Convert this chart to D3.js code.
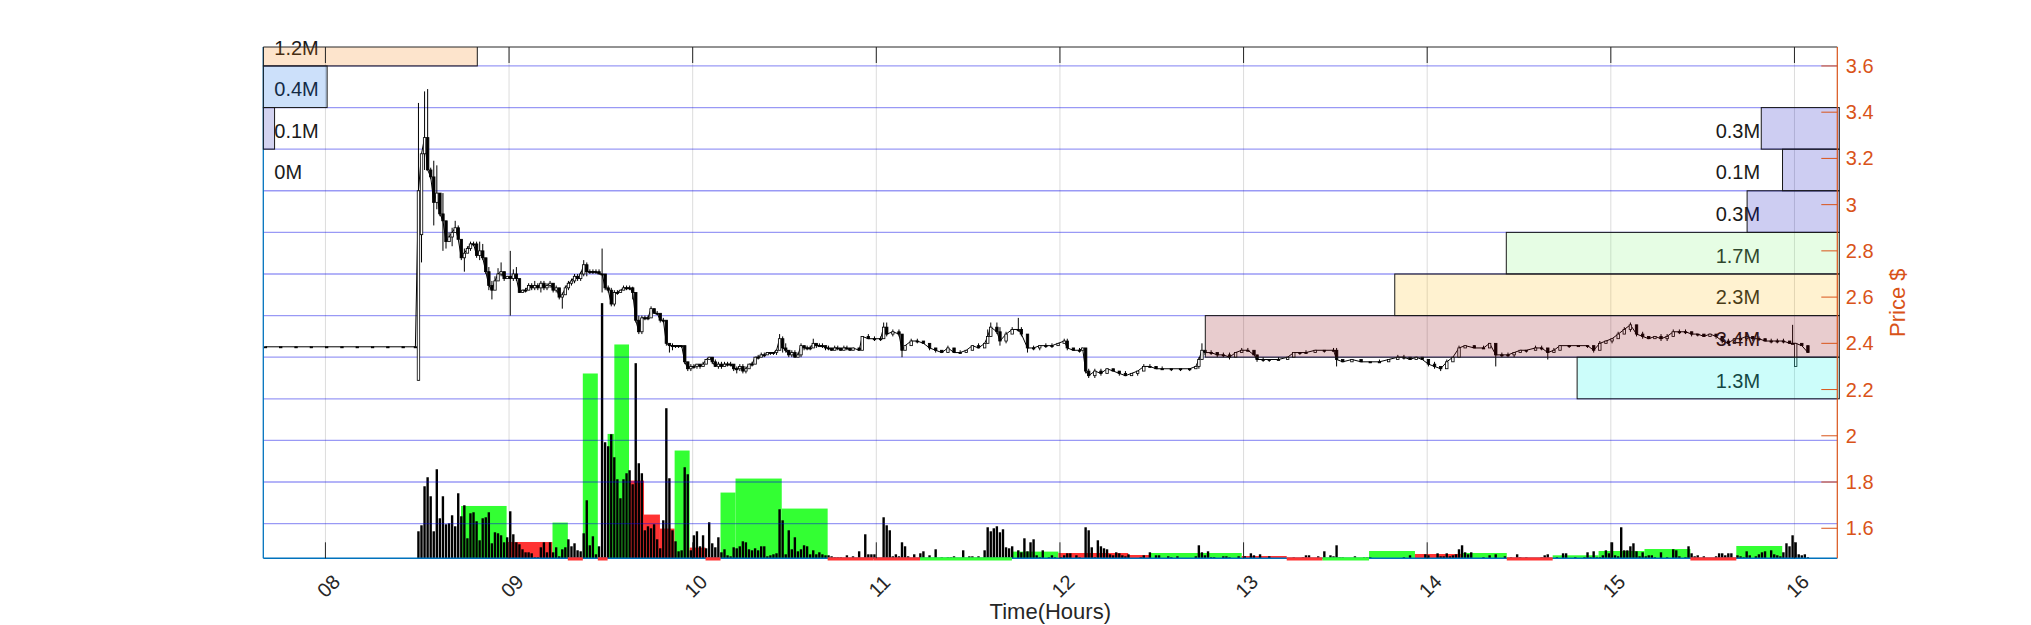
<!DOCTYPE html>
<html><head><meta charset="utf-8">
<script src="https://cdn.jsdelivr.net/npm/d3@7"></script>
<style>
body{margin:0;background:#fff;}
svg{display:block;font-family:"Liberation Sans",Arial,Helvetica,sans-serif;}
</style>
</head><body>
<svg id="c" width="2031" height="625"></svg>
<script>
// ---------------- DATA ----------------
const hourTicks = [480,540,600,660,720,780,840,900,960];          // minutes after midnight
const hourLabels = ["08","09","10","11","12","13","14","15","16"];
const priceTicks = [1.6,1.8,2.0,2.2,2.4,2.6,2.8,3.0,3.2,3.4,3.6];
const binEdges = [3.60,3.42,3.24,3.06,2.88,2.70,2.52,2.34,2.16,1.98,1.80,1.62];
const binSize = 0.18;

const leftProfileLow = [3.60,3.42,3.24,3.06];
const leftProfileVol = [1.2,0.4,0.12,0.02];          // millions
const leftProfileColor = ["#f57800","#0064e6","#2323b4","#2323b4"];

const rightProfileLow = [3.24,3.06,2.88,2.70,2.52,2.34,2.16];
const rightProfileVol = [0.26,0.14,0.34,1.70,2.33,3.40,1.30];   // millions
const rightProfileColor = ["#0505be","#0505be","#0505be","#82f578","#ffbe14","#8c000a","#00f5e6"];

// aggregated volume bars (start min, end min, volume, up=1/down=0)
const aggStart = [524.3,539.2,554.2,559.2,564.1,569.0,572.2,574.4,579.2,584.1,589.3,594.1,599.0,604.2,609.1,614.0,629.1,644.1,659.1,674.3,689.3,704.3,719.5,742.3,749.5,779.4,794.1,805.8,821.0,836.0,851.0,866.0,881.0,896.0,911.0,926.0,941.0];
const aggEnd   = [539.2,554.2,559.2,564.1,569.0,572.2,574.4,579.2,584.1,589.3,594.1,599.0,604.2,609.1,614.0,629.1,644.1,659.1,674.3,689.3,704.3,719.5,742.3,749.5,779.4,794.1,805.8,821.0,836.0,851.0,866.0,881.0,896.0,911.0,926.0,941.0,956.0];
const aggVol   = [52.3,16.3,35.7,0.5,184.7,0.5,124.3,213.7,77.7,43.7,29.7,107.7,10.7,0.5,65.7,79.7,49.7,0.5,0.5,0.5,0.5,6.7,5.3,3.3,5.3,2.3,0.5,0.5,7.3,4.3,5.3,0.5,3.0,7.3,9.3,0.5,12.3];
const aggUp    = [1,0,1,0,1,0,1,1,0,0,0,1,0,0,1,1,1,0,0,1,1,1,0,0,1,0,0,1,1,0,1,0,1,1,1,0,1];

// per-minute volume [minute, volume(k)]
const minuteVolumes = [
[510,27],[511,33],[512,72],[513,81],[514,62],[515,27],[516,89],[517,40],[518,62],[519,34],[520,35],[521,43],[522,32],[523,65],[524,42],[525,53],[526,20],[527,45],[528,46],[529,37],[530,18],[531,40],[532,41],[533,46],[534,15],[535,26],[536,25],[537,23],[538,16],[539,21],[540,47],[541,24],[542,16],[543,14],[544,9],[545,6],[546,6],[547,5],[548,1],[549,1],[550,11],[551,16],[552,6],[553,16],[554,6],[555,11],[556,2],[557,9],[558,11],[559,19],[560,12],[561,15],[562,8],[563,7],[564,25],[565,58],[566,13],[567,22],[568,4],[569,12],
[570,255],[571,116],[572,112],[573,124],[574,101],[575,79],[576,60],[577,79],[578,85],[579,88],[580,74],[581,195],[582,95],[583,85],[584,28],[585,32],[586,30],[587,34],[588,19],[589,10],[590,38],[591,150],[592,80],[593,28],[594,17],[595,7],[596,8],[597,91],[598,84],[599,8],[600,23],[601,27],[602,12],[603,23],[604,10],[605,36],[606,15],[607,11],[608,21],[609,6],[610,9],[611,3],[612,2],[613,11],[614,10],[615,12],[616,17],[617,16],[618,9],[619,8],[620,10],[621,8],[622,12],[623,12],[624,2],[625,3],[626,4],[627,5],[628,49],[629,38],[630,4],[631,28],[632,9],[633,21],[634,7],[635,9],[636,13],[637,12],[638,4],[639,8],[640,4],[641,6],[642,4],[643,3],[644,3],[645,2],[646,1],[647,1],[648,1],[650,3],[652,2],[654,7],[656,24],[657,4],[658,4],[659,4],
[662,41],[663,33],[664,28],[665,2],[666,4],[667,2],[668,16],[669,12],[670,2],[672,4],[674,5],[675,7],[677,3],[679,9],[681,1],[683,1],[684,1],[685,2],[688,8],[690,2],[691,2],[693,2],[695,8],[696,31],[697,27],[698,30],[699,32],[700,26],[701,29],[702,11],[703,10],[704,12],[706,8],[707,6],[708,20],[709,7],[710,16],[711,19],[712,3],[713,1],[714,8],[716,1],[717,3],[718,1],
[720,1],[721,3],[722,5],[723,5],[725,3],[726,1],[728,31],[729,28],[730,11],[731,1],[732,18],[733,12],[734,10],[735,9],[736,4],[737,3],[738,6],[739,5],[740,3],[741,2],[742,4],[746,1],[747,3],[749,6],[751,3],[752,3],[755,2],[756,1],[758,2],[764,2],[765,13],[766,6],[767,3],[768,7],[769,1],[770,1],[773,2],[774,2],[775,1],[778,2],[780,2],[782,5],[783,3],[785,4],[788,2],[796,1],[799,1],[800,3],[801,3],[804,2],[806,7],[808,3],[809,2],[810,13],[811,1],[812,1],[816,2],[819,1],[820,1],[821,1],[832,1],[834,3],[839,4],
[840,3],[843,5],[844,2],[845,2],[846,5],[847,2],[848,3],[849,4],[850,9],[851,13],[852,6],[853,4],[854,6],[858,1],[860,3],[862,4],[865,2],[867,1],[869,4],[870,1],[872,1],[877,1],[878,3],[879,4],[882,1],[884,5],[885,5],[888,1],[891,1],[892,6],[893,1],[894,7],[895,1],[896,1],[897,3],[898,8],[899,5],
[900,16],[901,3],[902,2],[903,31],[904,8],[905,8],[906,12],[907,15],[908,7],[909,2],[910,6],[911,2],[912,3],[913,3],[914,1],[916,6],[918,1],[920,9],[921,8],[922,2],[924,1],[925,12],[926,5],[927,2],[928,3],[930,2],[934,2],[935,5],[936,5],[937,3],[938,5],[939,5],[941,3],[942,2],[943,1],[944,7],[945,3],[947,2],[948,4],[949,6],[950,7],[952,8],[953,4],[954,3],[955,2],[956,6],[957,15],[958,12],[959,23],[960,16],[961,4],[962,3],[963,4],[964,1]
];

// price candles [minute, open, high, low, close]
const priceBars = [
[460,2.385,2.385,2.385,2.385],[465,2.385,2.385,2.385,2.385],[470,2.385,2.385,2.385,2.385],[475,2.385,2.385,2.385,2.385],[480,2.385,2.385,2.385,2.385],[485,2.385,2.385,2.385,2.385],[490,2.385,2.385,2.385,2.385],[495,2.385,2.385,2.385,2.385],[500,2.385,2.385,2.385,2.385],[505,2.385,2.385,2.385,2.385],[509,2.385,2.385,2.385,2.385],
[510,2.24,3.44,2.24,3.06],[511,2.87,3.22,2.75,3.22],[512,3.22,3.49,3.15,3.29],[513,3.29,3.50,3.15,3.15],[514,3.15,3.16,3.11,3.12],[515,3.12,3.19,2.91,3.01],[516,3.01,3.17,2.98,3.05],[517,3.05,3.05,2.95,2.96],[518,2.96,3.05,2.80,2.93],[519,2.93,2.93,2.81,2.84],
[520,2.84,2.88,2.84,2.86],[521,2.86,2.90,2.82,2.88],[522,2.88,2.93,2.88,2.90],[523,2.90,2.91,2.85,2.85],[524,2.85,2.85,2.76,2.77],[525,2.77,2.81,2.71,2.79],[526,2.79,2.82,2.79,2.81],[527,2.81,2.84,2.80,2.83],[528,2.83,2.84,2.82,2.83],[529,2.83,2.84,2.77,2.78],
[530,2.78,2.84,2.76,2.80],[531,2.80,2.83,2.76,2.77],[532,2.77,2.77,2.70,2.71],[533,2.71,2.73,2.63,2.65],[534,2.65,2.67,2.59,2.63],[535,2.63,2.69,2.63,2.67],[536,2.67,2.725,2.67,2.70],[537,2.70,2.75,2.69,2.71],[538,2.71,2.71,2.67,2.68],[539,2.68,2.69,2.68,2.69],
[540,2.69,2.80,2.52,2.68],[541,2.68,2.72,2.67,2.70],[542,2.70,2.73,2.67,2.68],[543,2.68,2.68,2.62,2.62],[544,2.62,2.63,2.62,2.63],[545,2.63,2.64,2.62,2.63],[546,2.63,2.66,2.63,2.65],[547,2.65,2.66,2.63,2.64],[548,2.64,2.67,2.63,2.65],[549,2.65,2.66,2.63,2.64],
[550,2.64,2.67,2.62,2.66],[551,2.66,2.67,2.63,2.64],[552,2.64,2.66,2.63,2.65],[553,2.65,2.67,2.64,2.66],[554,2.66,2.66,2.62,2.63],[555,2.63,2.65,2.62,2.64],[556,2.64,2.64,2.59,2.60],[557,2.60,2.62,2.55,2.61],[558,2.61,2.65,2.61,2.64],[559,2.64,2.67,2.63,2.66],
[560,2.66,2.68,2.65,2.67],[561,2.67,2.70,2.66,2.69],[562,2.69,2.70,2.67,2.68],[563,2.68,2.71,2.67,2.70],[564,2.70,2.76,2.69,2.74],[565,2.74,2.75,2.69,2.71],[566,2.71,2.72,2.70,2.71],[567,2.71,2.72,2.70,2.71],[568,2.71,2.72,2.70,2.71],[569,2.71,2.72,2.70,2.70],
[570,2.70,2.81,2.62,2.70],[571,2.70,2.70,2.63,2.64],[572,2.64,2.65,2.62,2.63],[573,2.63,2.64,2.56,2.57],[574,2.57,2.63,2.56,2.62],[575,2.62,2.63,2.61,2.62],[576,2.62,2.63,2.62,2.63],[577,2.63,2.65,2.63,2.64],[578,2.64,2.65,2.63,2.64],[579,2.64,2.65,2.63,2.64],
[580,2.64,2.645,2.59,2.62],[581,2.62,2.62,2.49,2.50],[582,2.50,2.52,2.44,2.45],[583,2.45,2.52,2.44,2.51],[584,2.51,2.52,2.50,2.51],[585,2.51,2.52,2.50,2.51],[586,2.51,2.56,2.51,2.55],[587,2.55,2.55,2.53,2.53],[588,2.53,2.54,2.53,2.53],[589,2.53,2.53,2.49,2.50],
[590,2.50,2.51,2.49,2.50],[591,2.50,2.50,2.39,2.40],[592,2.40,2.40,2.36,2.39],[593,2.39,2.40,2.37,2.39],[594,2.39,2.39,2.38,2.39],[595,2.39,2.39,2.38,2.39],[596,2.39,2.39,2.38,2.39],[597,2.39,2.39,2.31,2.32],[598,2.32,2.32,2.28,2.29],[599,2.29,2.31,2.28,2.30],
[600,2.30,2.31,2.29,2.30],[601,2.30,2.31,2.29,2.31],[602,2.31,2.31,2.29,2.30],[603,2.30,2.32,2.30,2.31],[604,2.31,2.33,2.31,2.33],[605,2.33,2.34,2.33,2.34],[606,2.34,2.34,2.31,2.32],[607,2.32,2.33,2.30,2.30],[608,2.30,2.32,2.29,2.31],[609,2.31,2.32,2.29,2.30],
[610,2.30,2.32,2.30,2.31],[611,2.31,2.32,2.30,2.31],[612,2.31,2.32,2.30,2.31],[613,2.31,2.31,2.28,2.29],[614,2.29,2.30,2.27,2.29],[615,2.29,2.31,2.28,2.30],[616,2.30,2.31,2.27,2.28],[617,2.28,2.30,2.27,2.29],[618,2.29,2.31,2.29,2.31],[619,2.31,2.32,2.30,2.31],
[620,2.31,2.34,2.31,2.34],[621,2.34,2.35,2.33,2.34],[622,2.34,2.36,2.34,2.35],[623,2.35,2.36,2.34,2.35],[624,2.35,2.36,2.35,2.36],[625,2.36,2.36,2.35,2.36],[626,2.36,2.36,2.35,2.36],[627,2.36,2.37,2.35,2.37],[628,2.37,2.44,2.37,2.42],[629,2.42,2.43,2.36,2.38],
[630,2.38,2.40,2.36,2.37],[631,2.37,2.37,2.34,2.35],[632,2.35,2.37,2.34,2.36],[633,2.36,2.37,2.34,2.34],[634,2.34,2.36,2.34,2.35],[635,2.35,2.40,2.34,2.39],[636,2.39,2.39,2.37,2.38],[637,2.38,2.39,2.37,2.38],[638,2.38,2.39,2.37,2.38],[639,2.38,2.42,2.38,2.40],
[640,2.40,2.40,2.38,2.39],[641,2.39,2.40,2.39,2.39],[642,2.39,2.40,2.38,2.39],[643,2.39,2.39,2.37,2.38],[644,2.38,2.39,2.37,2.38],[645,2.38,2.38,2.37,2.37],[646,2.37,2.39,2.37,2.38],[647,2.38,2.39,2.37,2.38],[648,2.38,2.38,2.37,2.37],[649,2.37,2.39,2.37,2.38],
[650,2.38,2.39,2.37,2.38],[651,2.38,2.38,2.37,2.37],[652,2.37,2.38,2.37,2.38],[654,2.38,2.38,2.37,2.37],[655,2.37,2.43,2.37,2.43],[657,2.43,2.44,2.42,2.42],[659,2.42,2.43,2.41,2.42],[661,2.42,2.43,2.41,2.42],[662,2.42,2.49,2.42,2.47],[663,2.47,2.49,2.43,2.44],
[665,2.44,2.46,2.43,2.45],[667,2.45,2.46,2.43,2.44],[668,2.44,2.44,2.34,2.37],[669,2.37,2.39,2.37,2.39],[671,2.39,2.42,2.39,2.41],[673,2.41,2.42,2.40,2.41],[675,2.41,2.41,2.40,2.40],[677,2.40,2.40,2.37,2.38],[679,2.38,2.38,2.36,2.37],[681,2.37,2.37,2.36,2.36],
[683,2.36,2.39,2.36,2.38],[685,2.38,2.38,2.36,2.36],[687,2.36,2.37,2.36,2.36],[689,2.36,2.37,2.36,2.37],[691,2.37,2.39,2.37,2.39],[693,2.39,2.40,2.38,2.38],[695,2.38,2.40,2.38,2.40],[696,2.40,2.46,2.40,2.43],[697,2.43,2.49,2.43,2.47],[699,2.47,2.49,2.44,2.45],
[700,2.45,2.47,2.39,2.41],[702,2.41,2.45,2.40,2.44],[704,2.44,2.47,2.44,2.46],[706,2.46,2.51,2.45,2.46],[707,2.46,2.47,2.43,2.44],[709,2.44,2.44,2.36,2.38],[711,2.38,2.39,2.37,2.38],[713,2.38,2.39,2.37,2.39],[715,2.39,2.40,2.38,2.39],[717,2.39,2.40,2.38,2.39],
[719,2.39,2.40,2.39,2.40],[721,2.40,2.42,2.40,2.41],[722,2.41,2.42,2.37,2.38],[724,2.38,2.38,2.37,2.37],[726,2.37,2.38,2.36,2.37],[727,2.37,2.38,2.37,2.38],[728,2.38,2.38,2.27,2.28],[729,2.28,2.29,2.25,2.26],[731,2.26,2.29,2.25,2.28],[733,2.28,2.29,2.26,2.27],
[735,2.27,2.29,2.27,2.29],[737,2.29,2.29,2.28,2.28],[739,2.28,2.28,2.26,2.27],[741,2.27,2.28,2.26,2.26],[743,2.26,2.27,2.26,2.27],[745,2.27,2.28,2.26,2.28],[747,2.28,2.31,2.28,2.30],[749,2.30,2.31,2.30,2.30],[751,2.30,2.30,2.29,2.29],[753,2.29,2.30,2.29,2.29],
[756,2.29,2.29,2.28,2.29],[759,2.29,2.29,2.28,2.29],[762,2.29,2.29,2.28,2.29],[764,2.29,2.30,2.29,2.30],[765,2.30,2.34,2.29,2.33],[766,2.33,2.40,2.33,2.37],[767,2.37,2.37,2.35,2.36],[769,2.36,2.37,2.35,2.36],[771,2.36,2.36,2.34,2.35],[773,2.35,2.36,2.34,2.35],
[775,2.35,2.36,2.33,2.34],[777,2.34,2.36,2.34,2.36],[779,2.36,2.38,2.36,2.37],[781,2.37,2.38,2.37,2.37],[783,2.37,2.37,2.35,2.35],[784,2.35,2.35,2.32,2.33],[786,2.33,2.34,2.32,2.33],[788,2.33,2.33,2.32,2.33],[791,2.33,2.34,2.33,2.33],[794,2.33,2.34,2.33,2.34],
[796,2.34,2.36,2.34,2.36],[798,2.36,2.36,2.35,2.36],[800,2.36,2.37,2.36,2.36],[803,2.36,2.37,2.36,2.37],[806,2.37,2.37,2.36,2.37],[809,2.37,2.38,2.37,2.37],[810,2.37,2.38,2.30,2.33],[812,2.33,2.33,2.32,2.32],[815,2.32,2.33,2.32,2.33],[818,2.33,2.33,2.32,2.32],
[821,2.32,2.32,2.32,2.32],[824,2.32,2.33,2.32,2.32],[827,2.32,2.33,2.32,2.33],[830,2.33,2.35,2.33,2.34],[832,2.34,2.35,2.33,2.34],[834,2.34,2.34,2.33,2.33],[836,2.33,2.34,2.33,2.34],[838,2.34,2.34,2.33,2.33],[840,2.33,2.33,2.30,2.31],[842,2.31,2.32,2.29,2.30],
[844,2.30,2.30,2.28,2.29],[846,2.29,2.33,2.29,2.32],[848,2.32,2.34,2.32,2.34],[850,2.34,2.39,2.34,2.38],[852,2.38,2.39,2.38,2.39],[855,2.39,2.39,2.38,2.38],[858,2.38,2.39,2.38,2.38],[860,2.38,2.40,2.38,2.40],[862,2.40,2.40,2.30,2.35],[864,2.35,2.36,2.34,2.35],
[866,2.35,2.36,2.34,2.35],[868,2.35,2.36,2.34,2.36],[870,2.36,2.37,2.36,2.37],[872,2.37,2.37,2.36,2.37],[875,2.37,2.39,2.37,2.38],[877,2.38,2.39,2.37,2.38],[879,2.38,2.38,2.33,2.36],[881,2.36,2.38,2.36,2.37],[883,2.37,2.39,2.37,2.39],[886,2.39,2.39,2.38,2.39],
[889,2.39,2.39,2.39,2.39],[892,2.39,2.39,2.38,2.39],[894,2.39,2.39,2.36,2.37],[896,2.37,2.41,2.37,2.40],[898,2.40,2.41,2.40,2.41],[900,2.41,2.42,2.40,2.42],[902,2.42,2.45,2.42,2.44],[904,2.44,2.47,2.44,2.46],[906,2.46,2.49,2.45,2.48],[908,2.48,2.48,2.43,2.44],
[910,2.44,2.45,2.42,2.43],[912,2.43,2.43,2.42,2.42],[914,2.42,2.43,2.42,2.43],[916,2.43,2.44,2.41,2.42],[918,2.42,2.44,2.41,2.43],[920,2.43,2.46,2.43,2.45],[922,2.45,2.46,2.44,2.45],[924,2.45,2.46,2.44,2.45],[926,2.45,2.45,2.43,2.44],[928,2.44,2.44,2.43,2.44],
[930,2.44,2.44,2.43,2.43],[932,2.43,2.44,2.43,2.44],[934,2.44,2.44,2.42,2.43],[936,2.43,2.43,2.40,2.41],[938,2.41,2.42,2.39,2.40],[940,2.40,2.42,2.40,2.42],[942,2.42,2.43,2.41,2.42],[944,2.42,2.44,2.41,2.43],[946,2.43,2.43,2.41,2.42],[948,2.42,2.43,2.41,2.42],
[950,2.42,2.42,2.41,2.41],[952,2.41,2.42,2.40,2.41],[954,2.41,2.42,2.40,2.41],[956,2.41,2.42,2.40,2.41],[958,2.41,2.41,2.40,2.40],[959,2.40,2.48,2.40,2.40],[960,2.30,2.40,2.30,2.40],[962,2.40,2.40,2.39,2.39],[964,2.39,2.39,2.36,2.36]
];

// ---------------- LAYOUT ----------------
const L = 263.3, R = 1837.3, T = 47, B = 558.3;
const axisBlue = "#0072BD", axisOrange = "#D95319", ink = "#262626";

const svg = d3.select("#c");
const x = d3.scaleLinear().domain([459.7, 974.0]).range([L, R]);
const yP = d3.scaleLinear().domain([1.470, 3.682]).range([B, T]);
const yV = d3.scaleLinear().domain([0, 511]).range([B, T]);
const wRight = d3.scaleLinear().domain([0, 3.4]).range([30, 632]);
const wLeft = d3.scaleLinear().domain([0.06, 1.2]).range([0, 214]).clamp(true);

const defs = svg.append("defs");
defs.append("clipPath").attr("id","clipPlot").append("rect")
  .attr("x", L).attr("y", T).attr("width", R - L).attr("height", B - T + 3);
defs.append("clipPath").attr("id","clipProf").append("rect")
  .attr("x", L - 1).attr("y", T).attr("width", R - L + 4).attr("height", B - T);

// vertical grid
svg.append("g").selectAll("line").data(hourTicks).join("line")
  .attr("x1", d => x(d)).attr("x2", d => x(d)).attr("y1", T).attr("y2", B)
  .attr("stroke", "#dcdcdc").attr("stroke-width", 1);

const plot = svg.append("g").attr("clip-path", "url(#clipPlot)");

// aggregated coloured volume bars
const agg = aggStart.map((s, i) => ({s, e: aggEnd[i], v: aggVol[i], up: aggUp[i]}));
plot.append("g").selectAll("rect").data(agg.filter(d => d.v >= 1)).join("rect")
  .attr("x", d => x(d.s)).attr("width", d => x(d.e) - x(d.s))
  .attr("y", d => yV(d.v)).attr("height", d => B - yV(d.v))
  .attr("fill", d => d.up ? "#33ff33" : "#ff3333");

// per-minute black volume bars
plot.append("g").selectAll("rect").data(minuteVolumes).join("rect")
  .attr("x", d => x(d[0])).attr("width", x(0.78) - x(0))
  .attr("y", d => yV(d[1])).attr("height", d => B - yV(d[1]))
  .attr("fill", "#000");

// blue bin lines
plot.append("g").selectAll("line").data(binEdges).join("line")
  .attr("x1", L).attr("x2", R).attr("y1", d => yP(d)).attr("y2", d => yP(d))
  .attr("stroke", "rgb(0,0,230)").attr("stroke-opacity", 0.4).attr("stroke-width", 1.3);

// price: connecting line
plot.append("path").datum(priceBars)
  .attr("d", d3.line().x(d => x(d[0] + 0.4)).y(d => yP(d[4])))
  .attr("fill", "none").attr("stroke", "#000").attr("stroke-width", 1);
// wicks
plot.append("g").selectAll("line").data(priceBars.filter(d => d[2] > d[3])).join("line")
  .attr("x1", d => x(d[0] + 0.4)).attr("x2", d => x(d[0] + 0.4))
  .attr("y1", d => yP(d[2])).attr("y2", d => yP(d[3]))
  .attr("stroke", "#000").attr("stroke-width", 1);
// bodies
plot.append("g").selectAll("rect").data(priceBars).join("rect")
  .attr("x", d => x(d[0]))
  .attr("width", x(0.8) - x(0))
  .attr("y", d => yP(Math.max(d[1], d[4])))
  .attr("height", d => Math.max(1, Math.abs(yP(d[1]) - yP(d[4]))))
  .attr("fill", d => d[4] > d[1] ? "#fff" : "#000")
  .attr("stroke", "#000").attr("stroke-width", 0.8);

// bottom axis line (blue) and left line
svg.append("line").attr("x1", L).attr("x2", R).attr("y1", B).attr("y2", B)
  .attr("stroke", axisBlue).attr("stroke-width", 1.5);
svg.append("line").attr("x1", L).attr("x2", L).attr("y1", T).attr("y2", B)
  .attr("stroke", axisBlue).attr("stroke-width", 1.3);

// tiny coloured bars drawn as strips over the baseline
svg.append("g").selectAll("rect").data(agg.filter(d => d.v < 1)).join("rect")
  .attr("x", d => x(d.s)).attr("width", d => x(d.e) - x(d.s))
  .attr("y", B - 1).attr("height", 3.2)
  .attr("fill", d => d.up ? "#33ff33" : "#ff3333");

// profile labels (under translucent rects)
const fmtM = v => `${+v.toFixed(1)}M`;
const lbl = svg.append("g").attr("font-size", 20).attr("fill", "#1a1a1a");
lbl.selectAll("text.l").data(leftProfileLow).join("text").attr("class","l")
  .attr("x", L + 11).attr("y", d => yP(d + binSize / 2) + 2.5)
  .attr("dominant-baseline", "central")
  .text((d, i) => fmtM(leftProfileVol[i]));
lbl.selectAll("text.r").data(rightProfileLow).join("text").attr("class","r")
  .attr("x", R - 121.6).attr("y", d => yP(d + binSize / 2) + 2.5)
  .attr("dominant-baseline", "central")
  .text((d, i) => fmtM(rightProfileVol[i]));

// profile rects
const prof = svg.append("g").attr("clip-path", "url(#clipProf)");
prof.selectAll("rect.l").data(leftProfileLow).join("rect").attr("class","l")
  .attr("x", L).attr("width", (d, i) => wLeft(leftProfileVol[i]))
  .attr("y", d => yP(d + binSize)).attr("height", d => yP(d) - yP(d + binSize))
  .attr("fill", (d, i) => leftProfileColor[i]).attr("fill-opacity", 0.2)
  .attr("stroke", "#1a1a1a").attr("stroke-width", 1);
prof.selectAll("rect.r").data(rightProfileLow).join("rect").attr("class","r")
  .attr("x", (d, i) => R - wRight(rightProfileVol[i])).attr("width", (d, i) => wRight(rightProfileVol[i]) + 2)
  .attr("y", d => yP(d + binSize)).attr("height", d => yP(d) - yP(d + binSize))
  .attr("fill", (d, i) => rightProfileColor[i]).attr("fill-opacity", 0.2)
  .attr("stroke", "#1a1a1a").attr("stroke-width", 1);

// top box line and x ticks
svg.append("line").attr("x1", L).attr("x2", R).attr("y1", T).attr("y2", T)
  .attr("stroke", ink).attr("stroke-width", 1);
svg.append("g").selectAll("line").data(hourTicks).join("line")
  .attr("x1", d => x(d)).attr("x2", d => x(d)).attr("y1", T).attr("y2", T + 16)
  .attr("stroke", ink).attr("stroke-width", 1);
svg.append("g").selectAll("line").data(hourTicks).join("line")
  .attr("x1", d => x(d)).attr("x2", d => x(d)).attr("y1", B).attr("y2", B - 16)
  .attr("stroke", ink).attr("stroke-width", 1);

// x tick labels rotated
svg.append("g").selectAll("text").data(hourTicks).join("text")
  .attr("transform", d => `translate(${x(d) + 3},586) rotate(-45)`)
  .attr("text-anchor", "middle").attr("dominant-baseline", "central")
  .attr("font-size", 20).attr("fill", ink)
  .text((d, i) => hourLabels[i]);

svg.append("text").attr("x", (L + R) / 2).attr("y", 619)
  .attr("text-anchor", "middle").attr("font-size", 22).attr("fill", ink)
  .text("Time(Hours)");

// right price axis
svg.append("line").attr("x1", R).attr("x2", R).attr("y1", T).attr("y2", B)
  .attr("stroke", axisOrange).attr("stroke-width", 1.2);
svg.append("g").selectAll("line").data(priceTicks).join("line")
  .attr("x1", R - 16).attr("x2", R).attr("y1", d => yP(d)).attr("y2", d => yP(d))
  .attr("stroke", axisOrange).attr("stroke-width", 1);
svg.append("g").selectAll("text").data(priceTicks).join("text")
  .attr("x", R + 8.5).attr("y", d => yP(d)).attr("dominant-baseline", "central")
  .attr("font-size", 20).attr("fill", axisOrange)
  .text(d => d3.format("~g")(d));
svg.append("text")
  .attr("transform", `translate(1897,${(T + B) / 2}) rotate(-90)`)
  .attr("text-anchor", "middle").attr("dominant-baseline", "central")
  .attr("font-size", 22).attr("fill", axisOrange)
  .text("Price $");
</script>
</body></html>
